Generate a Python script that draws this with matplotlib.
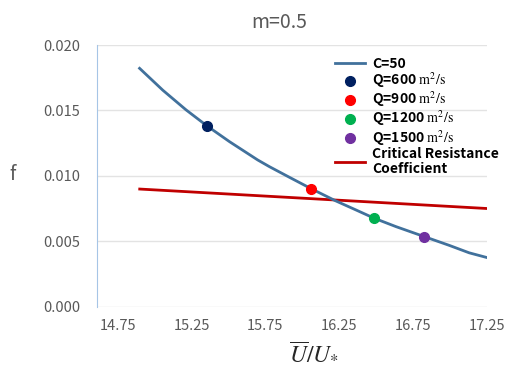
import numpy as np
import matplotlib.pyplot as plt

plt.rcParams['font.family'] = ['Noto Sans CJK KR', 'DejaVu Sans']
plt.rcParams['mathtext.fontset'] = 'stix'

# curve C=50
u_c = [14.899, 15.056, 15.214, 15.353, 15.507, 15.698, 15.777, 15.912, 16.059,
       16.223, 16.363, 16.486, 16.633, 16.824, 16.993, 17.128, 17.264]
f_c = [0.01822, 0.01655, 0.01504, 0.01384, 0.01262, 0.01122, 0.01071, 0.00990, 0.00903,
       0.00811, 0.00740, 0.00677, 0.00613, 0.00537, 0.00470, 0.00413, 0.00372]

# discharge points
q_labels = ['Q=600 $\\mathrm{m^2/s}$', 'Q=900 $\\mathrm{m^2/s}$',
            'Q=1200 $\\mathrm{m^2/s}$', 'Q=1500 $\\mathrm{m^2/s}$']
q_u = [15.353, 16.059, 16.486, 16.824]
q_f = [0.01384, 0.00903, 0.00677, 0.00537]
q_colors = ['#002060', '#FF0000', '#00B050', '#7030A0']

# critical resistance coefficient
u_cr = [14.90, 17.27]
f_cr = [0.0090, 0.0075]

fig = plt.figure(figsize=(5.07, 3.72), dpi=100)
ax = fig.add_axes([0.191, 0.175, 0.770, 0.704])

ax.plot(u_c, f_c, color='#41719C', lw=2, label='C=50', zorder=3)
for lab, x, y, c in zip(q_labels, q_u, q_f, q_colors):
    ax.plot([x], [y], 'o', color=c, ms=7, label=lab, zorder=4, ls='none')
ax.plot(u_cr, f_cr, color='#C00000', lw=2, label='Critical Resistance\nCoefficient', zorder=2)

ax.set_xlim(14.61, 17.25)
ax.set_ylim(0, 0.020)
ax.set_xticks([14.75, 15.25, 15.75, 16.25, 16.75, 17.25])
ax.set_xticklabels(['14.75', '15.25', '15.75', '16.25', '16.75', '17.25'])
ax.set_yticks([0, 0.005, 0.010, 0.015, 0.020])
ax.set_yticklabels(['0.000', '0.005', '0.010', '0.015', '0.020'])
ax.grid(axis='y', color='#E3E3E3', lw=1)
ax.set_axisbelow(True)
for s in ['top', 'right', 'bottom']:
    ax.spines[s].set_visible(False)
ax.spines['left'].set_color('#A6C5E6')
ax.tick_params(axis='y', length=0, labelsize=10.5, colors='#595959', pad=12)
ax.tick_params(axis='x', length=0, labelsize=10.5, colors='#595959', pad=9)

leg = ax.legend(loc='upper right', bbox_to_anchor=(1.055, 0.99), frameon=False,
                prop={'weight': 'bold', 'size': 10}, handlelength=2.2,
                labelspacing=-0.04, handletextpad=0.5, borderaxespad=0.3)
leg.get_texts()[-1].set_linespacing(1.1)

fig.text(0.55, 0.94, 'm=0.5', ha='center', va='center', fontsize=14, color='#595959')
fig.text(0.025, 0.53, 'f', ha='center', va='center', fontsize=14, color='#595959')
fig.text(0.62, 0.05, '$\\overline{U}/U_{*}$', ha='center', va='center', fontsize=17, color='#262626')

fig.savefig('out.png', dpi=100)
